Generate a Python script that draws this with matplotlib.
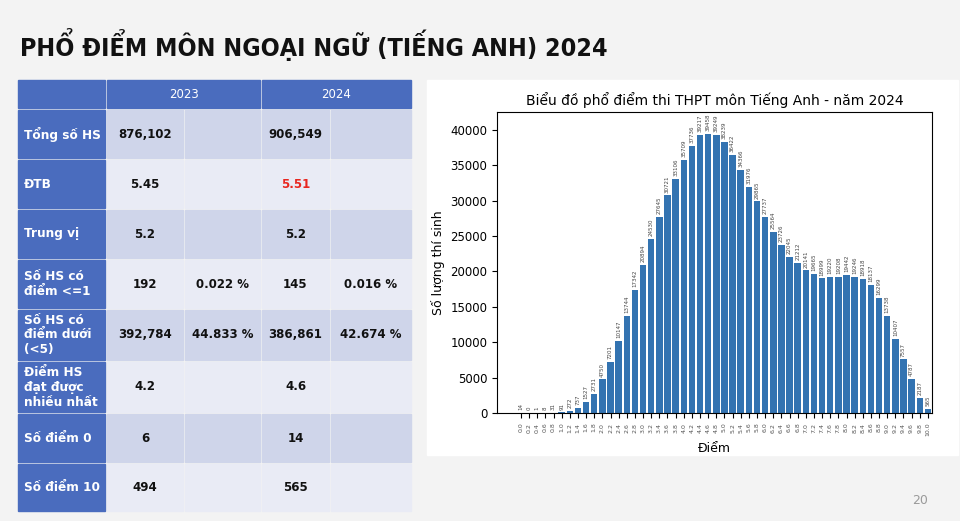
import matplotlib.pyplot as plt
from matplotlib.patches import Rectangle

plt.rcParams['font.family'] = ['DejaVu Sans']

# Dữ liệu phổ điểm 2024
scores = ['0.0', '0.2', '0.4', '0.6', '0.8', '1.0', '1.2', '1.4', '1.6', '1.8',
          '2.0', '2.2', '2.4', '2.6', '2.8', '3.0', '3.2', '3.4', '3.6', '3.8',
          '4.0', '4.2', '4.4', '4.6', '4.8', '5.0', '5.2', '5.4', '5.6', '5.8',
          '6.0', '6.2', '6.4', '6.6', '6.8', '7.0', '7.2', '7.4', '7.6', '7.8',
          '8.0', '8.2', '8.4', '8.6', '8.8', '9.0', '9.2', '9.4', '9.6', '9.8', '10.0']
counts = [14, 0, 1, 8, 31, 91, 272, 737, 1527, 2731, 4750, 7201, 10147, 13744,
          17342, 20894, 24530, 27645, 30721, 33106, 35709, 37736, 39217, 39458,
          39249, 38239, 36422, 34366, 31976, 29865, 27737, 25564, 23726, 22045,
          21212, 20141, 19665, 18999, 19220, 19208, 19442, 19246, 18918, 18137,
          16299, 13738, 10407, 7557, 4787, 2187, 565]

# Bảng so sánh
years = ['2023', '2024']
row_names = ['Tổng số HS', 'ĐTB', 'Trung vị', 'Số HS có\nđiểm <=1',
             'Số HS có\nđiểm dưới\n(<5)', 'Điểm HS\nđạt được\nnhiều nhất',
             'Số điểm 0', 'Số điểm 10']
val_2023 = ['876,102', '5.45', '5.2', '192', '392,784', '4.2', '6', '494']
pct_2023 = ['', '', '', '0.022 %', '44.833 %', '', '', '']
val_2024 = ['906,549', '5.51', '5.2', '145', '386,861', '4.6', '14', '565']
pct_2024 = ['', '', '', '0.016 %', '42.674 %', '', '', '']

fig = plt.figure(figsize=(9.6, 5.21), dpi=100, facecolor='#f3f3f3')

# lớp nền toạ độ pixel
bg = fig.add_axes([0, 0, 1, 1])
bg.set_xlim(0, 960)
bg.set_ylim(521, 0)
bg.axis('off')

bg.text(20, 45, 'PHỔ ĐIỂM MÔN NGOẠI NGỮ (TIẾNG ANH) 2024', fontsize=18,
        fontweight='bold', fontstretch='condensed', va='center', ha='left',
        color='#111111')
bg.text(920, 500, '20', fontsize=9, color='#9a9a9a', ha='center', va='center')

blue = '#4a6cbe'
dark = '#cfd5ea'
light = '#e9ebf5'
col_x = [18, 107, 185, 262, 331, 413]
row_y = [80, 110, 160, 210, 260, 310, 362, 414, 464, 513]
gap = 2

# hàng tiêu đề
bg.add_patch(Rectangle((col_x[0], row_y[0]), col_x[1] - col_x[0] - gap, 28, color=blue))
for i, yr in enumerate(years):
    x0 = col_x[1 + 2 * i]
    x1 = col_x[3 + 2 * i] - gap
    bg.add_patch(Rectangle((x0, row_y[0]), x1 - x0, 28, color=blue))
    bg.text((x0 + x1) / 2, row_y[0] + 15, yr, color='white', fontsize=8.5,
            ha='center', va='center')

for r, name in enumerate(row_names):
    y0 = row_y[r + 1]
    h = row_y[r + 2] - y0 - gap
    fill = dark if r % 2 == 0 else light
    bg.add_patch(Rectangle((col_x[0], y0), col_x[1] - col_x[0] - gap, h, color=blue))
    bg.text(col_x[0] + 6, y0 + h / 2, name, color='white', fontsize=8.7,
            fontweight='bold', ha='left', va='center', linespacing=1.2)
    cells = [val_2023[r], pct_2023[r], val_2024[r], pct_2024[r]]
    for c, txt in enumerate(cells):
        x0 = col_x[c + 1]
        w = col_x[c + 2] - x0 - gap
        bg.add_patch(Rectangle((x0, y0), w, h, color=fill))
        color = '#e8261f' if (r == 1 and c == 2) else '#111111'
        bg.text(x0 + w / 2, y0 + h / 2, txt, color=color, fontsize=8.5,
                fontweight='semibold', ha='center', va='center')

# khung biểu đồ
bg.add_patch(Rectangle((427, 80), 531, 375, color='white'))

ax = fig.add_axes([0.5177, 0.2073, 0.4531, 0.5777])
x = [float(s) for s in scores]
ax.bar(x, counts, width=0.16, color='#3373b1')
for xi, v in zip(x, counts):
    ax.text(xi, v + 400, str(v), rotation=90, fontsize=4, color='#444444',
            ha='center', va='bottom')
ax.set_xticks(x)
ax.set_xticklabels(scores, rotation=90, fontsize=4.5, color='#555555')
ax.tick_params(axis='y', labelsize=8.5)
ax.set_xlim(-0.59, 10.1)
ax.set_ylim(0, 42500)
ax.set_title('Biểu đồ phổ điểm thi THPT môn Tiếng Anh - năm 2024', fontsize=10,
             pad=5)
ax.set_xlabel('Điểm', fontsize=9)
ax.set_ylabel('Số lượng thí sinh', fontsize=9)

fig.savefig('out.png', dpi=100, facecolor=fig.get_facecolor())
